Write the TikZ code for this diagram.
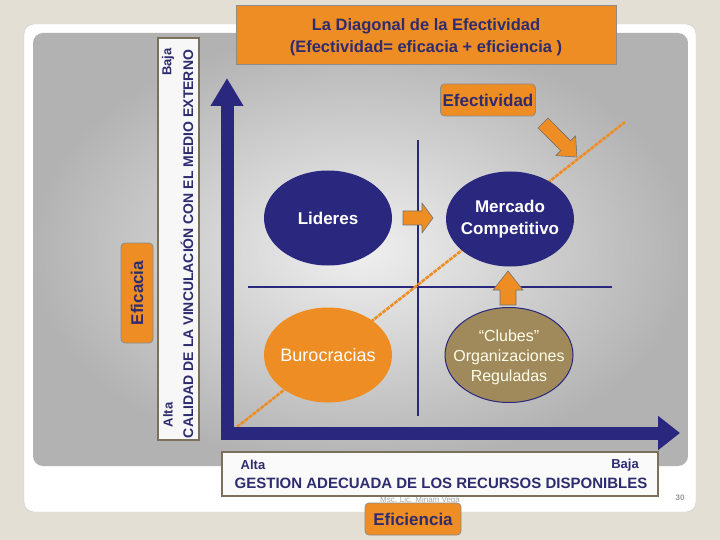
\documentclass[tikz,border=0pt]{standalone}
\usepackage{fontspec}
\setmainfont{Liberation Sans}
\usetikzlibrary{shapes.geometric,arrows.meta}
\definecolor{navy}{HTML}{29277E}
\definecolor{org}{HTML}{EE8D23}
\definecolor{tanc}{HTML}{A08A5C}
\definecolor{pagec}{HTML}{E4DFD5}
\definecolor{txt}{HTML}{2E2C6E}
\definecolor{boxline}{HTML}{7A705C}
\tikzset{
  obox/.style={fill=org, draw=black!45, line width=0.8, text=txt, font=\bfseries\fontsize{17}{22}\selectfont, align=center, inner sep=0},
  bluell/.style={ellipse, fill=navy, minimum width=128, minimum height=95, inner sep=0},
  elltext/.style={text=white, font=\bfseries\fontsize{17}{22}\selectfont, align=center, inner sep=0},
  blockarrow/.style={fill=org, draw=black!55, line width=0.6, line join=round},
  lbl/.style={text=txt, font=\bfseries\fontsize{13}{15}\selectfont, inner sep=0},
  qline/.style={navy, line width=1.6}
}
\begin{document}
\begin{tikzpicture}[x=1pt,y=-1pt]
\useasboundingbox (0,0) rectangle (720,540);
\fill[pagec] (0,0) rectangle (720,540);
\draw[gray!40, fill=white, rounded corners=10] (24,24) rectangle (696,512);
\shade[inner color=gray!12, outer color=gray!60, rounded corners=10] (33,33) rectangle (688,466);
% footer
\node[text=gray!70, font=\fontsize{8}{9}\selectfont] (author) at (420,500) {Msc. Lic. Miriam Vega};
\node[text=gray!80, font=\bfseries\fontsize{8}{9}\selectfont] (pnum) at (680,498) {30};
% quadrant lines
\coordinate (vtop) at (418,140); \coordinate (vbot) at (418,416);
\coordinate (hl) at (248,287); \coordinate (hr) at (612,287);
\draw[qline] (vtop) -- (vbot);
\draw[qline] (hl) -- (hr);
% diagonal
\coordinate (d1) at (237,427); \coordinate (d2) at (625,122);
\draw[org, line width=2.6, dash pattern=on 4pt off 1pt] (d1) -- (d2);
% axes
\coordinate (ytip) at (227,78); \coordinate (orig) at (227,433); \coordinate (xtip) at (680,433);
\draw[navy, line width=13, line join=miter, {Triangle[width=31pt,length=28pt]}-{Triangle[width=33pt,length=22pt]}] (ytip) -- (orig) -- (xtip);
% ellipses
\node[bluell] (lid) at (328,218) {};
\node[bluell] (mer) at (510,219) {};
\node[bluell, fill=org] (bur) at (328,355) {};
\node[bluell, fill=tanc, draw=navy, line width=1] (clu) at (509,355) {};
\node[elltext] (lidt) at (lid.center) {Lideres};
\node[elltext] (mert) at (mer.center) {Mercado\\Competitivo};
\node[elltext, font=\fontsize{18}{22}\selectfont] (burt) at (bur.center) {Burocracias};
\node[elltext, text=white!92!yellow, font=\fontsize{16}{20}\selectfont] (clut) at ([yshift=-2]clu.center) {“Clubes”\\Organizaciones\\Reguladas};
% block arrows
\draw[blockarrow] (403,211) -- (422,211) -- (422,203) -- (433,218) -- (422,233) -- (422,225) -- (403,225) -- cycle;
\draw[blockarrow] (500,305) -- (500,290) -- (493,290) -- (508,271) -- (523,290) -- (516,290) -- (516,305) -- cycle;
\draw[blockarrow] (548,118) -- (570.6,140.8) -- (575.6,135.8) -- (577,157) -- (555.8,155.6) -- (560.8,150.6) -- (538,128) -- cycle;
% boxes
\node[obox, minimum width=380, minimum height=59] (title) at (426,34.5) {};
\node[obox, draw=none, fill=none, font=\bfseries\fontsize{16.5}{22}\selectfont] (titlet) at ([yshift=-3]title.center) {La Diagonal de la Efectividad\\(Efectividad= eficacia + eficiencia )};
\node[obox, rounded corners=4, minimum width=95, minimum height=32] (efe) at (488,100) {Efectividad};
\node[obox, rounded corners=4, minimum width=100, minimum height=32, rotate=90] (efi) at (137,293) {Eficacia};
\node[obox, rounded corners=4, minimum width=96, minimum height=32] (efc) at (413,519) {Eficiencia};
% vertical label box
\draw[boxline, fill=gray!6, line width=1.2] (158,38) rectangle (199,440);
\node[lbl, rotate=90] (vbaja) at (168,62) {Baja};
\node[lbl, rotate=90] (valta) at (168,415) {Alta};
\node[lbl, rotate=90, font=\bfseries\fontsize{14}{16}\selectfont] (vmain) at (187,244) {CALIDAD DE LA VINCULACIÓN CON EL MEDIO EXTERNO};
% horizontal label box
\draw[boxline, fill=gray!4, line width=1.2] (222,452) rectangle (658,496);
\node[lbl] (halta) at (253,465) {Alta};
\node[lbl] (hbaja) at (625,465) {Baja};
\node[lbl, font=\bfseries\fontsize{15}{17}\selectfont] (hmain) at (441,483) {GESTION ADECUADA DE LOS RECURSOS DISPONIBLES};
\end{tikzpicture}
\end{document}
